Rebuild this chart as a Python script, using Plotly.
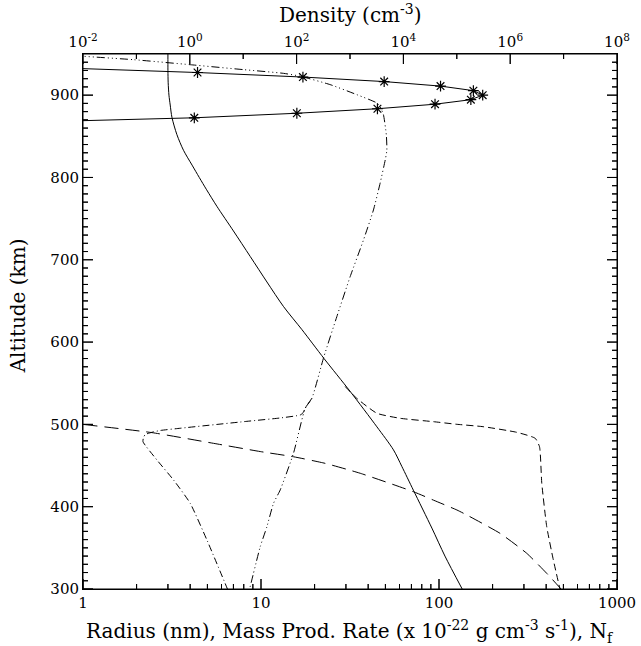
import numpy as np
import plotly.graph_objects as go

# ---- profiles versus altitude (km) ----
# mean particle radius (nm), bottom axis
radius_alt = [950, 930, 915, 900, 888, 873, 852, 833, 815, 800, 785, 765, 735, 704, 673,
              643, 615, 580, 540, 497, 469, 449, 420, 374, 340, 300]
radius_nm = [3.0, 3.0, 3.01, 3.04, 3.09, 3.16, 3.37, 3.67, 4.1, 4.5, 4.95, 5.65, 7.0, 8.7,
             10.8, 13.4, 17.0, 22.6, 31.7, 44.8, 55.5, 61.8, 71.8, 91.2, 108, 135]

# mass production rate (1e-22 g cm^-3 s^-1), bottom axis
prod_alt = [933, 927.5, 922, 916.5, 911, 905.5, 900, 894.5, 889, 883.5, 878, 872.5, 867]
prod_rate = [0.78, 4.4, 17.2, 49.2, 102, 156, 176, 151, 95, 45.1, 15.9, 4.22, 0.44]

# particle number density (cm^-3), top axis
dens_alt = [950, 947.2, 943.1, 937, 931, 926.5, 923, 912.8, 900.6, 890.5, 886, 876.3,
            852, 833, 823, 793, 760.5, 724, 679.5, 631, 582, 531.7, 519.6, 465,
            420.3, 404, 375.7, 351.4, 300]
dens_log = [-2.6, -1.99, -1.053, 0.008, 1.006, 1.754, 2.067, 2.628, 3.128, 3.503, 3.564,
            3.626, 3.68, 3.69, 3.665, 3.564, 3.439, 3.252, 3.003, 2.754, 2.51, 2.286,
            2.161, 1.942, 1.693, 1.567, 1.444, 1.319, 1.12]

# second density branch (cm^-3), top axis
dens2_alt = [531.7, 519.6, 514, 511.4, 507.8, 503.7, 495.3, 492.6, 490.4, 487.7, 484.3,
             479, 456.7, 432.4, 404.1, 359.5, 300]
dens2_log = [2.286, 2.161, 2.12, 2.067, 1.695, 1.069, -0.179, -0.553, -0.709, -0.834,
             -0.866, -0.877, -0.615, -0.304, 0.008, 0.321, 0.705]

# short-dashed profile, bottom axis
sdash_alt = [546, 531.7, 513.5, 507.4, 503.3, 500.1, 497.2, 490.4, 483.1, 472.9, 428.4,
             375.7, 335.2, 300]
sdash_val = [29.7, 34.5, 44.8, 60.5, 93, 126, 177, 273, 347, 367, 378, 403, 439, 478]

# long-dashed profile, bottom axis
ldash_alt = [503, 500, 490, 477, 467, 460.7, 452.7, 440.6, 418.2, 408, 396, 390, 367.7,
             343.4, 319, 300]
ldash_val = [0.77, 1.0, 2.44, 5.41, 9.9, 15.2, 22.9, 36.1, 71.8, 93, 126, 143, 220,
             311, 403, 485]

# axis ticks
bottom_ticks = [1, 10, 100, 1000]
bottom_minor = [m * 10 ** d for d in range(3) for m in range(2, 10)]
top_exps = [-2, 0, 2, 4, 6, 8]
top_minor_exps = [-1, 1, 3, 5, 7]
alt_ticks = [300, 400, 500, 600, 700, 800, 900]
alt_minor = [a for a in range(310, 950, 10) if a % 100 != 0]

FONT = "DejaVu Serif"
BLACK = "#000000"

W, H = 641, 646
M_L, M_R, M_T, M_B = 83, 24, 54, 57
X_RANGE = (0, 3)          # log10 of bottom axis
X2_RANGE = (-2, 8)        # log10 of top axis
Y_RANGE = (300, 950)
PX_PER_DECADE = (W - M_L - M_R) / (X_RANGE[1] - X_RANGE[0])
PX_PER_KM = (H - M_T - M_B) / (Y_RANGE[1] - Y_RANGE[0])
MAJOR_LEN, MINOR_LEN = 10, 5

fig = go.Figure()

fig.add_trace(go.Scatter(x=radius_nm, y=radius_alt, mode="lines",
                         line=dict(color=BLACK, width=1, shape="spline", smoothing=0.8),
                         xaxis="x", yaxis="y"))
fig.add_trace(go.Scatter(x=sdash_val, y=sdash_alt, mode="lines",
                         line=dict(color=BLACK, width=1, dash="7px,4px",
                                   shape="spline", smoothing=0.5),
                         xaxis="x", yaxis="y"))
fig.add_trace(go.Scatter(x=ldash_val, y=ldash_alt, mode="lines",
                         line=dict(color=BLACK, width=1, dash="14px,7px",
                                   shape="spline", smoothing=0.5),
                         xaxis="x", yaxis="y"))
fig.add_trace(go.Scatter(x=prod_rate, y=prod_alt, mode="lines+markers",
                         line=dict(color=BLACK, width=1),
                         marker=dict(symbol="asterisk-open", size=9,
                                     line=dict(color=BLACK, width=1.2)),
                         xaxis="x", yaxis="y"))
fig.add_trace(go.Scatter(x=[10 ** v for v in dens_log], y=dens_alt, mode="lines",
                         line=dict(color=BLACK, width=1,
                                   dash="8px,3px,1px,3px,1px,3px,1px,3px",
                                   shape="spline", smoothing=0.5),
                         xaxis="x2", yaxis="y"))
fig.add_trace(go.Scatter(x=[10 ** v for v in dens2_log], y=dens2_alt, mode="lines",
                         line=dict(color=BLACK, width=1, dash="7px,3px,1px,3px",
                                   shape="spline", smoothing=0.5),
                         xaxis="x2", yaxis="y"))


# ---- inward tick marks: one continuous "comb" line per frame side ----
def comb_vertical(vals_lens, base, sign):
    """Teeth at x positions, running along the horizontal frame line y=base."""
    xs, ys = [], []
    for v, ln in sorted(vals_lens):
        tip = base + sign * ln / PX_PER_KM
        xs += [v, v, v]
        ys += [base, tip, base]
    return xs, ys


def comb_horizontal(vals_lens, base_x, sign):
    """Teeth at altitudes, running along the vertical frame line x=base_x (log axis)."""
    xs, ys = [], []
    for a, ln in sorted(vals_lens):
        tip = base_x * 10 ** (sign * ln / PX_PER_DECADE)
        xs += [base_x, tip, base_x]
        ys += [a, a, a]
    return xs, ys


tick_line = dict(color=BLACK, width=1)

bottom_vl = [(v, MAJOR_LEN) for v in bottom_ticks] + [(v, MINOR_LEN) for v in bottom_minor]
xs, ys = comb_vertical(bottom_vl, Y_RANGE[0], +1)
fig.add_trace(go.Scatter(x=xs, y=ys, mode="lines", line=tick_line, xaxis="x", yaxis="y"))

top_vl = ([(10.0 ** e, MAJOR_LEN) for e in top_exps] +
          [(10.0 ** e, MINOR_LEN) for e in top_minor_exps])
xs, ys = comb_vertical(top_vl, Y_RANGE[1], -1)
fig.add_trace(go.Scatter(x=xs, y=ys, mode="lines", line=tick_line, xaxis="x2", yaxis="y"))

alt_vl = [(a, MAJOR_LEN) for a in alt_ticks] + [(a, MINOR_LEN) for a in alt_minor]
xs, ys = comb_horizontal(alt_vl, 10.0 ** X_RANGE[0], +1)
fig.add_trace(go.Scatter(x=xs, y=ys, mode="lines", line=tick_line, xaxis="x", yaxis="y"))
xs, ys = comb_horizontal(alt_vl, 10.0 ** X_RANGE[1], -1)
fig.add_trace(go.Scatter(x=xs, y=ys, mode="lines", line=tick_line, xaxis="x", yaxis="y"))

fig.update_layout(
    template="none",
    width=W, height=H,
    margin=dict(l=M_L, r=M_R, t=M_T, b=M_B, autoexpand=False),
    paper_bgcolor="white", plot_bgcolor="white",
    showlegend=False,
    font=dict(family=FONT, size=15, color=BLACK),
    xaxis=dict(
        type="log", range=list(X_RANGE), showgrid=False, zeroline=False,
        automargin=False, showline=True, linecolor=BLACK, linewidth=1, mirror=False,
        ticks="", tickmode="array", tickvals=bottom_ticks,
        ticktext=[str(t) for t in bottom_ticks],
    ),
    xaxis2=dict(
        type="log", range=list(X2_RANGE), overlaying="x", side="top", anchor="y",
        showgrid=False, zeroline=False, automargin=False,
        showline=True, linecolor=BLACK, linewidth=1, ticks="",
        tickmode="array", tickvals=[10.0 ** e for e in top_exps],
        ticktext=["10<sup>%d</sup>" % e for e in top_exps],
    ),
    yaxis=dict(
        range=list(Y_RANGE), showgrid=False, zeroline=False, automargin=False,
        showline=True, linecolor=BLACK, linewidth=1, mirror=True, ticks="",
        tickmode="array", tickvals=alt_ticks, ticksuffix="   ",
    ),
    annotations=[
        dict(text="Altitude (km)", textangle=-90, xref="paper", yref="paper",
             x=-0.12, y=0.53, xanchor="center", yanchor="middle",
             showarrow=False, font=dict(size=20)),
        dict(text="Radius (nm), Mass Prod. Rate (x 10<sup>-22</sup> g cm<sup>-3</sup> "
                  "s<sup>-1</sup>), N<sub>f</sub>",
             xref="paper", yref="paper", x=0.5, y=-0.08, xanchor="center",
             yanchor="middle", showarrow=False, font=dict(size=20)),
        dict(text="Density (cm<sup>-3</sup>)", xref="paper", yref="paper",
             x=0.5, y=1.075, xanchor="center", yanchor="middle",
             showarrow=False, font=dict(size=20)),
    ],
)

fig.write_html("out.html")
